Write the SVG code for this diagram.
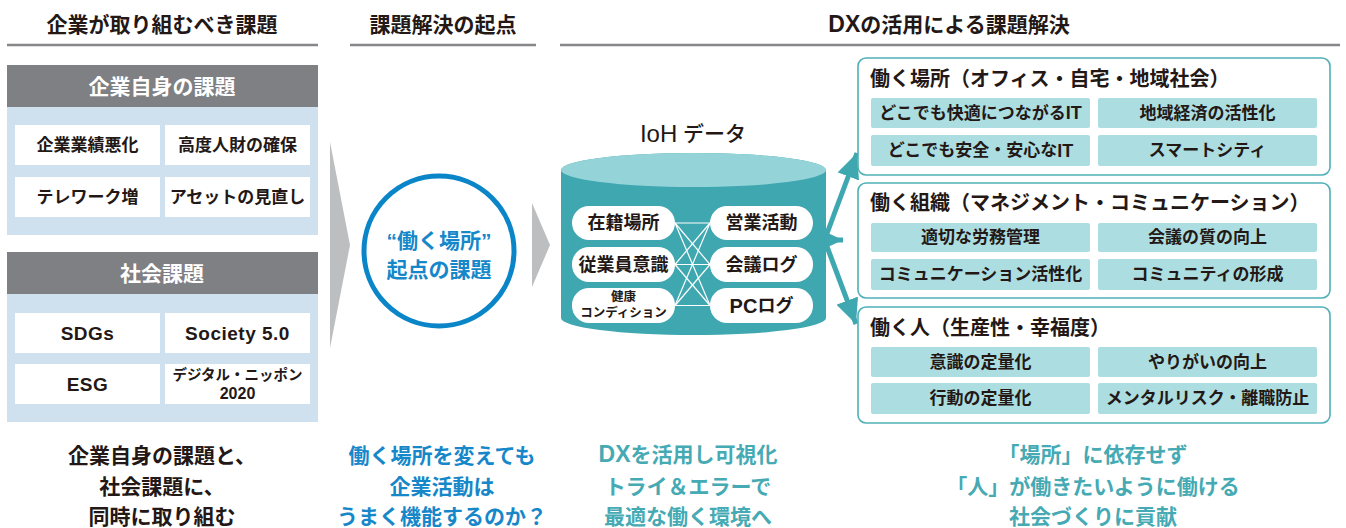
<svg xmlns="http://www.w3.org/2000/svg" width="1346" height="528" viewBox="0 0 1346 528">
<defs>
<style>
text{font-family:"Liberation Sans","Noto Sans CJK JP",sans-serif;font-weight:700;dominant-baseline:central;text-anchor:middle;fill:#231815}
.h{font-size:21px}
.hl{stroke:#86878a;stroke-width:2.5}
.gh{fill:#7f8084}
.gb{fill:#cfe1ee}
.wc{fill:#fff}
.wt{fill:#fff;font-size:21px}
.ct{font-size:17px}
.lt{font-size:19px;letter-spacing:0.5px}
.bot{font-size:21px}
.blue{fill:#1687c9}
.teal{fill:#45aab3}
.pill{fill:#fff}
.pt{font-size:18px}
.rb{fill:#fff;stroke:#4fb0b8;stroke-width:1.6}
.rc{fill:#acdde1}
.rt{font-size:20px;text-anchor:start}
.rct{font-size:17px}
.arr{stroke:#3fa7b0;stroke-width:5;fill:none}
.net{stroke:#fff;stroke-width:1.2}
.chev{fill:#bcbec0}
</style>
<marker id="ah" viewBox="0 0 25 23" refX="25" refY="11.5" markerWidth="25" markerHeight="23" markerUnits="userSpaceOnUse" orient="auto">
<path d="M0,0 L25,11.5 L0,23 Z" fill="#3fa7b0"/>
</marker>
</defs>
<rect width="1346" height="528" fill="#fff"/>

<g id="headers">
<text class="h" x="162" y="24">企業が取り組むべき課題</text>
<line class="hl" x1="7" y1="45" x2="318" y2="45"/>
<text class="h" x="443" y="24">課題解決の起点</text>
<line class="hl" x1="350" y1="45" x2="536" y2="45"/>
<text class="h" x="949" y="24"><tspan style="font-size:23px">DX</tspan>の活用による課題解決</text>
<line class="hl" x1="560" y1="45" x2="1340" y2="45"/>
</g>

<g id="company-issues">
<rect class="gh" x="7" y="65" width="311" height="42"/>
<rect class="gb" x="7" y="107" width="311" height="128"/>
<text class="wt" x="162" y="86">企業自身の課題</text>
<rect class="wc" x="15" y="125" width="145" height="40"/>
<rect class="wc" x="165" y="125" width="145" height="40"/>
<rect class="wc" x="15" y="177" width="145" height="40"/>
<rect class="wc" x="165" y="177" width="145" height="40"/>
<text class="ct" x="87.5" y="145">企業業績悪化</text>
<text class="ct" x="237.5" y="145">高度人財の確保</text>
<text class="ct" x="87.5" y="197">テレワーク増</text>
<text class="ct" x="237.5" y="197">アセットの見直し</text>
</g>

<g id="social-issues">
<rect class="gh" x="7" y="252" width="311" height="42"/>
<rect class="gb" x="7" y="294" width="311" height="128"/>
<text class="wt" x="162" y="273">社会課題</text>
<rect class="wc" x="15" y="313" width="145" height="40"/>
<rect class="wc" x="165" y="313" width="145" height="40"/>
<rect class="wc" x="15" y="364" width="145" height="40"/>
<rect class="wc" x="165" y="364" width="145" height="40"/>
<text class="lt" x="87.5" y="333">SDGs</text>
<text class="lt" x="237.5" y="333">Society 5.0</text>
<text class="lt" x="87.5" y="384">ESG</text>
<text x="237.5" y="375" style="font-size:14.5px">デジタル・ニッポン</text>
<text x="237.5" y="393" style="font-size:16px">2020</text>
</g>

<g id="left-caption">
<text class="bot" x="162" y="455">企業自身の課題と、</text>
<text class="bot" x="162" y="486">社会課題に、</text>
<text class="bot" x="162" y="516">同時に取り組む</text>
</g>

<g id="chevron-1"><polygon class="chev" points="330,142 350,245 330,348"/></g>

<g id="start-circle">
<circle cx="439" cy="251" r="75" fill="#fff" stroke="#0a86c8" stroke-width="5"/>
<text class="blue" x="439" y="240" style="font-size:21px">“働く場所”</text>
<text class="blue" x="439" y="269" style="font-size:21px">起点の課題</text>
</g>

<g id="middle-caption">
<text class="bot blue" x="442" y="455">働く場所を変えても</text>
<text class="bot blue" x="442" y="486">企業活動は</text>
<text class="bot blue" x="442" y="516">うまく機能するのか？</text>
</g>

<g id="chevron-2"><polygon class="chev" points="532,203 550,245 532,287"/></g>

<g id="ioh-data">
<text x="693" y="133" style="font-size:21px;font-weight:500"><tspan style="font-size:24px">IoH</tspan> データ</text>
<path d="M561,170 A132.5,17 0 0 1 826,170 L826,318 A132.5,17 0 0 1 561,318 Z" fill="#3fa7b0"/>
<ellipse cx="693.5" cy="170" rx="132.5" ry="17" fill="#94d4d9"/>
<rect class="pill" x="572" y="206" width="103" height="34" rx="17"/>
<rect class="pill" x="572" y="247" width="103" height="35" rx="17"/>
<rect class="pill" x="572" y="288" width="103" height="35" rx="17"/>
<rect class="pill" x="710" y="206" width="103" height="34" rx="17"/>
<rect class="pill" x="710" y="247" width="103" height="35" rx="17"/>
<rect class="pill" x="710" y="288" width="103" height="35" rx="17"/>
<text class="pt" x="623.5" y="223">在籍場所</text>
<text class="pt" x="623.5" y="264.5">従業員意識</text>
<text x="623.5" y="297" style="font-size:12.5px">健康</text>
<text x="623.5" y="313" style="font-size:12.5px">コンディション</text>
<text class="pt" x="761.5" y="223">営業活動</text>
<text class="pt" x="761.5" y="264.5">会議ログ</text>
<text class="pt" x="761.5" y="305.5"><tspan style="font-size:20px">PC</tspan>ログ</text>
</g>

<g id="connectors">
<g class="net">
<line x1="675" y1="223" x2="710" y2="223"/>
<line x1="675" y1="223" x2="710" y2="264.5"/>
<line x1="675" y1="223" x2="710" y2="305.5"/>
<line x1="675" y1="264.5" x2="710" y2="223"/>
<line x1="675" y1="264.5" x2="710" y2="264.5"/>
<line x1="675" y1="264.5" x2="710" y2="305.5"/>
<line x1="675" y1="305.5" x2="710" y2="223"/>
<line x1="675" y1="305.5" x2="710" y2="264.5"/>
<line x1="675" y1="305.5" x2="710" y2="305.5"/>
</g>
<line class="arr" x1="826" y1="236" x2="857" y2="153" marker-end="url(#ah)"/>
<line class="arr" x1="824" y1="240" x2="843" y2="240" marker-end="url(#ah)"/>
<line class="arr" x1="826" y1="244" x2="856" y2="324" marker-end="url(#ah)"/>
</g>

<g id="box-place">
<rect class="rb" x="858" y="58" width="472" height="117" rx="8"/>
<text class="rt" x="870" y="79">働く場所（オフィス・自宅・地域社会）</text>
<rect class="rc" x="871" y="98" width="219" height="30" rx="2"/>
<rect class="rc" x="1098" y="98" width="219" height="30" rx="2"/>
<rect class="rc" x="871" y="135" width="219" height="31" rx="2"/>
<rect class="rc" x="1098" y="135" width="219" height="31" rx="2"/>
<text class="rct" x="980.5" y="113">どこでも快適につながる<tspan style="font-size:18px">IT</tspan></text>
<text class="rct" x="1207.5" y="113">地域経済の活性化</text>
<text class="rct" x="980.5" y="150.5">どこでも安全・安心な<tspan style="font-size:18px">IT</tspan></text>
<text class="rct" x="1207.5" y="150.5">スマートシティ</text>
</g>

<g id="box-org">
<rect class="rb" x="858" y="183" width="472" height="115" rx="8"/>
<text class="rt" x="870" y="203">働く組織（マネジメント・コミュニケーション）</text>
<rect class="rc" x="871" y="223" width="219" height="29" rx="2"/>
<rect class="rc" x="1098" y="223" width="219" height="29" rx="2"/>
<rect class="rc" x="871" y="259" width="219" height="31" rx="2"/>
<rect class="rc" x="1098" y="259" width="219" height="31" rx="2"/>
<text class="rct" x="980.5" y="237.5">適切な労務管理</text>
<text class="rct" x="1207.5" y="237.5">会議の質の向上</text>
<text class="rct" x="980.5" y="274.5">コミュニケーション活性化</text>
<text class="rct" x="1207.5" y="274.5">コミュニティの形成</text>
</g>

<g id="box-people">
<rect class="rb" x="858" y="307" width="472" height="116" rx="8"/>
<text class="rt" x="870" y="328">働く人（生産性・幸福度）</text>
<rect class="rc" x="871" y="347" width="219" height="30" rx="2"/>
<rect class="rc" x="1098" y="347" width="219" height="30" rx="2"/>
<rect class="rc" x="871" y="383" width="219" height="31" rx="2"/>
<rect class="rc" x="1098" y="383" width="219" height="31" rx="2"/>
<text class="rct" x="980.5" y="362">意識の定量化</text>
<text class="rct" x="1207.5" y="362">やりがいの向上</text>
<text class="rct" x="980.5" y="398.5">行動の定量化</text>
<text class="rct" x="1207.5" y="398.5">メンタルリスク・離職防止</text>
</g>

<g id="dx-caption">
<text class="bot teal" x="688" y="454"><tspan style="font-size:23px">DX</tspan>を活用し可視化</text>
<text class="bot teal" x="688" y="486">トライ＆エラーで</text>
<text class="bot teal" x="688" y="516">最適な働く環境へ</text>
</g>

<g id="right-caption">
<text class="bot teal" x="1093" y="454">「場所」に依存せず</text>
<text class="bot teal" x="1093" y="486">「人」が働きたいように働ける</text>
<text class="bot teal" x="1093" y="516">社会づくりに貢献</text>
</g>
</svg>
